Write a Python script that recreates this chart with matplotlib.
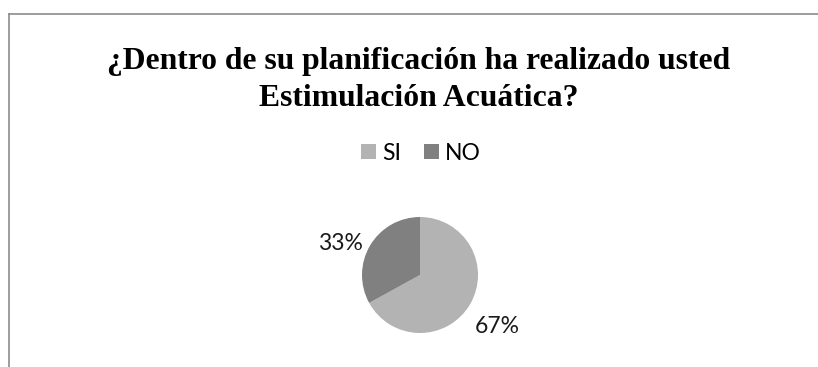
import matplotlib
matplotlib.use("Agg")
import matplotlib.pyplot as plt
from matplotlib.lines import Line2D

# respuestas de la encuesta
labels = ["SI", "NO"]
values = [67, 33]
colors = ["#b3b3b3", "#808080"]

title_1 = "¿Dentro de su planificación ha realizado usted"
title_2 = "Estimulación Acuática?"

W, H = 818, 367
fig = plt.figure(figsize=(W / 100, H / 100), dpi=100)
fig.patch.set_facecolor("white")

# marco del grafico (solo se ve arriba y a la izquierda)
x0, y0 = 8.5 / W, 1 - 13.5 / H
fig.add_artist(Line2D([x0, 1.0], [y0, y0], color="#8c8c8c", lw=1.2, transform=fig.transFigure))
fig.add_artist(Line2D([x0, x0], [0.0, y0], color="#8c8c8c", lw=1.2, transform=fig.transFigure))

fig.text(419 / W, 1 - 69 / H, title_1, ha="center", va="baseline",
         family="Liberation Serif", fontweight="bold", fontsize=22.8)
fig.text(419 / W, 1 - 106 / H, title_2, ha="center", va="baseline",
         family="Liberation Serif", fontweight="bold", fontsize=22.8)

# pie
r = 58
cx, cy = 420, 275
half = 1.3 * r
ax = fig.add_axes([(cx - half) / W, 1 - (cy + half) / H, 2 * half / W, 2 * half / H])
wedges, texts, autotexts = ax.pie(values, colors=colors, startangle=90, counterclock=False,
                                  autopct="%d%%", pctdistance=1.5, radius=1.0,
                                  textprops=dict(family="Lato", fontsize=16.5, color="#1a1a1a"))
ax.set_xlim(-1.3, 1.3)
ax.set_ylim(-1.3, 1.3)
ax.set_aspect("equal")
ax.axis("off")

# etiquetas fuera del pastel, ajuste "mejor posicion"
label_xy = [(1.34, -0.88), (-1.38, 0.55)]
for t, (lx, ly) in zip(autotexts, label_xy):
    t.set_position((lx, ly))

fig.legend(wedges, labels, loc="center", bbox_to_anchor=(421 / W, 1 - 153 / H), ncol=2,
           frameon=False, prop=dict(family="Lato", size=16.5),
           handlelength=0.65, handleheight=0.65, handletextpad=0.25, columnspacing=1.0)

fig.savefig("out.png", dpi=100)
